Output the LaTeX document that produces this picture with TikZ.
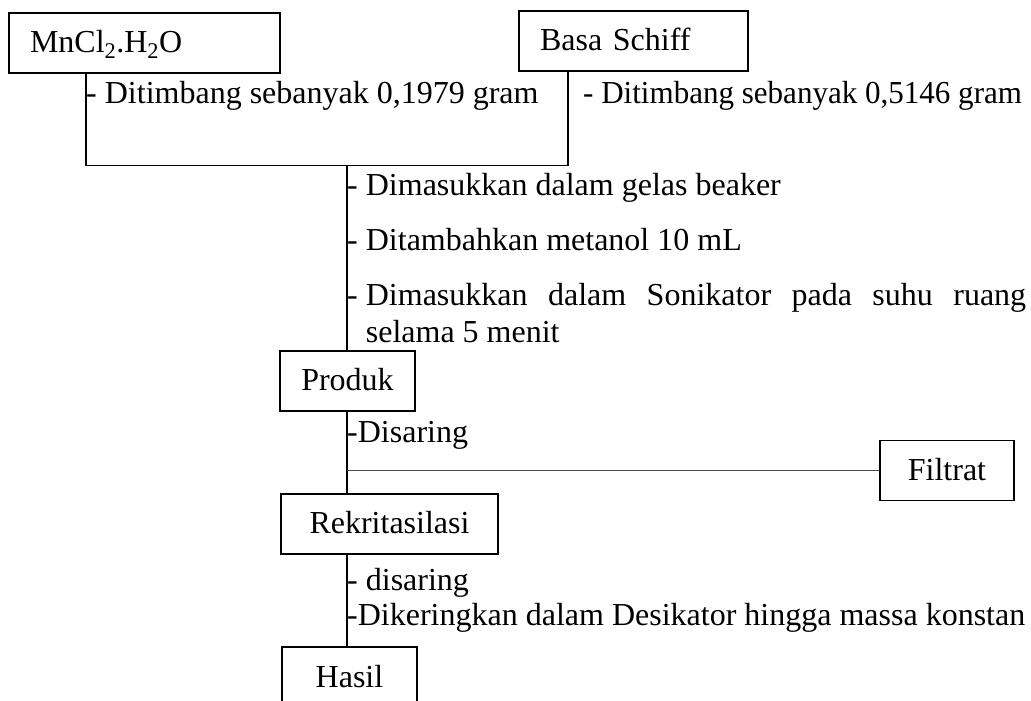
\documentclass[tikz,border=0pt]{standalone}
\usepackage{fontspec}
\setmainfont{Liberation Serif}
\begin{document}
\begin{tikzpicture}[x=1pt,y=-1pt,
  every node/.style={font=\fontsize{32}{37}\selectfont, inner sep=0pt},
  box/.style={draw, line width=1.6pt, minimum height=60pt, text height=22pt, text depth=3pt},
  conn/.style={line width=1.6pt},
  lbl/.style={anchor=base west}]
\useasboundingbox (0,0) rectangle (1031,701);
% boxes
\node[box, text width=229pt, inner xsep=21pt, align=left] (mn) at (144.5,43) {MnCl\textsubscript{2}.H\textsubscript{2}O};
\node[box, text width=187pt, inner xsep=21pt, align=left] (bs) at (633.5,41) {Basa Schiff};
\node[box, minimum width=135pt] (prod) at (347.5,381) {Produk};
\node[box, minimum width=134pt] (fil) at (947,470.5) {Filtrat};
\node[box, minimum width=217pt] (rek) at (389.5,524) {Rekritasilasi};
\node[box, minimum width=135pt, minimum height=62pt] (has) at (349.5,678) {Hasil};
% junctions
\coordinate (j1) at (86,165.5);
\coordinate (j2) at (568,165.5);
\coordinate (j3) at (347,165.5);
\coordinate (j4) at (347,470.5);
% connectors
\draw[conn] (mn.south -| j1) -- (j1) -- (j2) -- (bs.south -| j2);
\draw[conn] (j3) -- (prod.north -| j3);
\draw[conn] (prod.south -| j3) -- (rek.north -| j3);
\draw[conn, draw=black!70] (j4) -- (fil.west);
\draw[conn] (rek.south -| j3) -- (has.north -| j3);
% labels
\node[lbl] (l1) at (86,103) {- Ditimbang sebanyak 0,1979 gram};
\node[lbl] (l2) at (583,103) {\scalebox{0.97}[1]{- Ditimbang sebanyak 0,5146 gram}};
\node[lbl] (l3) at (347,195) {- Dimasukkan dalam gelas beaker};
\node[lbl] (l4) at (347,250) {- Ditambahkan metanol 10 mL};
\node[lbl] (l5) at (347,305) {\begin{minipage}[t]{679pt}\tolerance=10000 \hbadness=10000 \leftskip=18.66pt \rightskip=0pt \parindent=0pt
\noindent\hspace*{-18.66pt}\makebox[18.66pt][l]{-}Dimasukkan dalam Sonikator pada suhu ruang\linebreak selama 5 menit\end{minipage}};
\node[lbl] (l6) at (347,442) {-Disaring};
\node[lbl] (l7) at (347,590) {- disaring};
\node[lbl] (l8) at (347,625) {-Dikeringkan dalam Desikator hingga massa konstan};
\end{tikzpicture}
\end{document}
